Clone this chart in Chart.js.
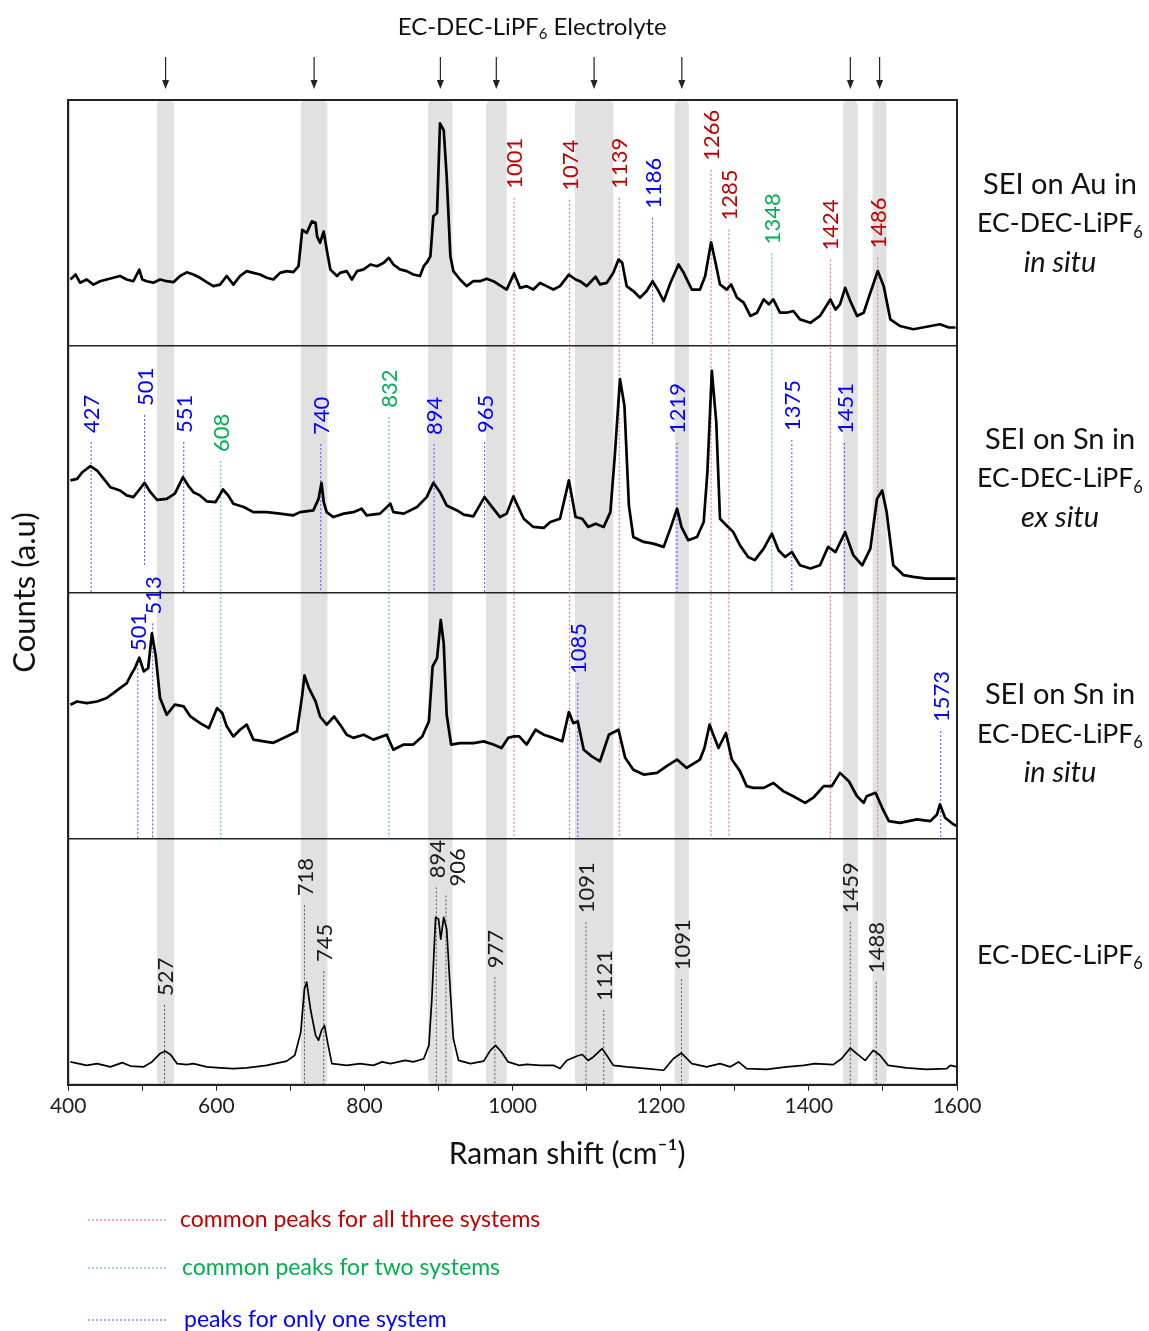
<!DOCTYPE html>
<html lang="en">
<head>
<meta charset="UTF-8">
<title>Raman spectra of SEI on Au and Sn in EC-DEC-LiPF6</title>
<script src="https://cdn.jsdelivr.net/npm/chart.js"></script>
<style>
    html, body { margin: 0; padding: 0; background: #ffffff; }
    canvas { display: block; }
</style>
</head>
<body>
<canvas id="raman" width="1149" height="1331"></canvas>
<script>
// each spectrum lives in its own 100-unit tall panel, stacked top to bottom
const panelBase = [300, 200, 100, 0];

// [Raman shift cm-1, counts in panel units]
const auInSitu = [
    [403,27.1],[410,29.1],[416,25.8],[425,27.1],[434,25.0],[443,26.4],[452,27.1],[461,27.8],[470,28.5],[479,27.1],
    [488,26.4],[496,31.1],[500,27.1],[506,26.4],[515,25.8],[524,27.1],[533,26.4],[542,26.0],[551,28.5],[560,30.0],
    [569,29.1],[578,27.8],[587,26.0],[596,24.4],[605,25.0],[614,28.5],[623,25.0],[632,28.5],[641,30.5],[650,29.8],
    [659,29.1],[668,27.8],[677,27.1],[686,29.8],[695,30.5],[704,30.1],[711,32.5],[716,47.3],[722,46.0],[729,50.7],
    [734,50.1],[736,44.6],[740,42.0],[745,46.6],[749,39.3],[754,31.1],[763,28.5],[767,29.8],[776,30.5],[783,27.1],
    [790,30.5],[799,31.2],[808,33.2],[817,32.5],[826,33.9],[833,35.9],[839,33.2],[848,31.2],[857,30.5],[866,29.1],
    [875,28.5],[880,32.5],[884,33.9],[889,36.5],[893,52.8],[898,54.1],[902,90.5],[907,87.8],[911,69.0],[916,36.5],
    [920,30.5],[929,27.1],[938,24.4],[947,26.4],[956,26.4],[965,27.4],[974,26.4],[992,23.0],[1002,29.6],[1010,23.7],
    [1019,24.4],[1028,23.0],[1037,25.7],[1046,24.4],[1055,23.0],[1064,24.4],[1076,29.1],[1085,27.1],[1091,26.4],[1100,24.4],
    [1112,28.2],[1118,25.1],[1127,25.7],[1136,29.8],[1143,35.2],[1148,33.9],[1154,24.4],[1163,22.4],[1172,19.7],[1181,22.4],
    [1189,26.4],[1197,22.4],[1204,18.3],[1213,25.7],[1224,33.2],[1231,29.8],[1242,23.0],[1253,23.0],[1260,28.5],[1268,42.2],
    [1274,33.9],[1280,25.1],[1289,23.0],[1295,25.1],[1303,19.7],[1312,17.7],[1321,12.3],[1330,13.6],[1339,19.0],[1346,17.0],
    [1352,19.0],[1361,13.6],[1370,13.6],[1379,14.3],[1388,10.9],[1402,9.5],[1415,12.3],[1429,19.0],[1436,14.9],[1442,17.0],
    [1449,23.7],[1456,18.3],[1465,12.3],[1474,13.6],[1483,21.7],[1493,30.5],[1501,24.4],[1510,10.9],[1523,8.2],[1541,6.9],
    [1559,7.9],[1577,8.9],[1589,7.6],[1598,7.6]
];

const snExSitu = [
    [403,45.5],[412,46.1],[419,48.8],[430,51.3],[439,49.5],[448,46.1],[457,42.7],[470,41.4],[479,39.4],[488,38.7],
    [497,42.1],[503,44.5],[511,40.7],[520,37.6],[533,38.0],[544,40.1],[555,46.8],[562,43.4],[569,40.7],[578,39.4],
    [587,37.0],[599,36.7],[609,41.8],[616,39.4],[623,36.0],[637,34.7],[650,32.6],[668,32.6],[686,32.0],[704,31.3],
    [713,32.6],[731,33.3],[738,38.0],[742,44.5],[745,36.7],[749,32.6],[758,30.6],[772,32.0],[785,32.6],[796,34.0],
    [803,31.3],[821,32.0],[835,36.0],[839,32.6],[853,32.0],[871,34.7],[884,38.7],[893,44.5],[902,40.7],[911,35.3],
    [925,33.3],[934,31.6],[947,30.9],[962,38.7],[974,34.0],[983,30.6],[992,32.0],[1001,39.0],[1015,29.9],[1028,26.6],
    [1042,26.2],[1051,28.6],[1064,29.9],[1076,45.5],[1085,30.6],[1094,29.9],[1102,26.6],[1112,27.9],[1123,26.6],[1132,32.6],
    [1138,55.6],[1145,86.6],[1151,75.8],[1157,35.3],[1163,22.5],[1177,20.5],[1190,19.8],[1204,18.5],[1213,25.9],[1222,34.0],
    [1228,26.6],[1237,21.2],[1249,22.5],[1258,28.6],[1263,48.8],[1269,90.0],[1275,69.1],[1280,29.9],[1289,27.2],[1298,24.5],
    [1307,19.1],[1318,14.4],[1327,13.1],[1339,17.8],[1350,23.9],[1359,17.1],[1368,14.4],[1377,16.4],[1388,11.0],[1402,9.7],
    [1415,11.0],[1426,18.5],[1436,16.4],[1449,24.5],[1460,15.1],[1472,11.0],[1483,17.8],[1492,38.0],[1499,41.4],[1505,32.6],
    [1514,11.0],[1528,7.0],[1541,6.3],[1559,5.6],[1577,5.6],[1598,5.6]
];

const snInSitu = [
    [403,54.4],[412,55.7],[425,55.0],[439,55.7],[452,57.1],[461,59.1],[470,61.1],[479,63.1],[486,67.2],[490,69.2],
    [496,73.5],[502,67.9],[508,69.2],[513,83.4],[518,74.6],[524,57.1],[533,50.3],[544,54.4],[556,53.7],[565,49.6],
    [578,46.9],[590,44.9],[601,53.0],[608,51.0],[614,45.6],[623,41.5],[632,44.2],[641,46.3],[650,40.2],[664,39.5],
    [677,38.9],[695,41.5],[709,43.6],[716,58.4],[719,66.3],[725,61.1],[734,55.7],[740,49.6],[749,46.3],[759,49.6],
    [767,46.3],[776,42.2],[785,40.9],[799,42.2],[812,40.2],[830,42.2],[839,36.1],[853,38.2],[866,38.2],[878,41.5],
    [887,47.6],[892,69.9],[898,73.3],[903,88.8],[907,79.3],[911,50.3],[917,38.2],[929,38.8],[947,38.8],[961,39.5],
    [974,38.2],[985,36.8],[994,40.9],[1001,41.5],[1009,41.5],[1019,38.2],[1031,44.2],[1042,42.2],[1055,40.9],[1067,39.5],
    [1076,51.4],[1082,46.9],[1088,47.6],[1096,36.1],[1107,33.4],[1118,31.4],[1130,42.2],[1143,44.2],[1152,32.8],[1163,28.0],
    [1177,26.0],[1195,26.7],[1208,29.4],[1222,32.1],[1235,28.7],[1253,32.1],[1259,36.8],[1266,46.3],[1271,42.2],[1278,36.8],
    [1288,42.9],[1296,32.1],[1307,27.4],[1316,21.3],[1325,20.6],[1339,20.6],[1352,22.6],[1366,19.2],[1379,17.2],[1395,14.5],
    [1406,16.6],[1420,21.3],[1431,21.3],[1442,26.7],[1454,23.3],[1465,17.2],[1474,14.5],[1478,17.2],[1490,18.6],[1499,12.5],
    [1508,7.1],[1523,6.4],[1546,7.8],[1564,7.1],[1573,9.8],[1577,13.9],[1584,8.5],[1595,5.8],[1600,5.1]
];

const electrolyte = [
    [403,9.3],[425,7.9],[439,8.6],[457,7.3],[473,9.0],[484,7.6],[502,7.3],[513,9.3],[524,12.7],[531,13.6],
    [538,12.3],[547,8.6],[560,8.2],[569,8.6],[587,7.3],[605,6.9],[623,6.6],[641,6.9],[668,7.9],[695,9.6],
    [706,12.0],[714,21.4],[719,39.0],[722,41.7],[727,30.9],[734,20.1],[738,18.1],[742,22.1],[746,24.1],[751,16.0],
    [756,8.6],[776,7.9],[794,8.6],[812,7.9],[824,9.3],[835,8.6],[855,9.9],[866,9.3],[880,10.6],[887,16.0],
    [891,34.9],[896,68.0],[900,67.3],[903,59.2],[907,68.0],[911,63.3],[916,37.6],[920,18.7],[927,9.9],[943,8.6],
    [961,9.6],[970,14.0],[977,16.0],[985,13.3],[994,9.3],[1009,7.9],[1019,8.3],[1037,7.9],[1055,7.9],[1064,6.6],
    [1073,9.9],[1087,11.7],[1094,12.3],[1102,9.9],[1109,11.3],[1121,14.7],[1127,12.0],[1136,7.9],[1154,7.3],[1181,6.6],
    [1204,5.9],[1217,10.6],[1228,12.9],[1242,8.6],[1262,7.3],[1280,8.6],[1294,7.3],[1305,9.3],[1316,6.6],[1343,6.3],
    [1370,7.3],[1393,7.9],[1408,8.6],[1433,8.2],[1444,10.6],[1456,14.9],[1465,12.6],[1476,9.9],[1487,14.0],[1496,12.0],
    [1507,7.9],[1532,6.9],[1559,6.3],[1586,6.6],[1591,7.9],[1600,7.3]
];

// shaded electrolyte bands (cm-1)
const bandStart = [520, 714, 886, 964, 1084, 1219, 1446, 1486];
const bandEnd   = [543, 750, 919, 992, 1136, 1238, 1466, 1505];

// peak markers: [line position, label, kind, line top, line bottom, label position]
const auMarks = [
    [1002, '1001', 'all', 360.3, 100],
    [1077, '1074', 'all', 359.5, 100],
    [1144, '1139', 'all', 360.3, 100],
    [1189, '1186', 'one', 352.2, 300],
    [1268, '1266', 'all', 371.7, 100],
    [1292, '1285', 'all', 347.4, 100],
    [1350, '1348', 'two', 337.7, 200],
    [1429, '1424', 'all', 335.2, 100],
    [1493, '1486', 'all', 336.0, 100]
];
const snExMarks = [
    [431, '427', 'one', 261.1, 200],
    [503, '501', 'one', 272.1, 210.5],
    [556, '551', 'one', 261.1, 200],
    [606, '608', 'two', 253.4, 100],
    [741, '740', 'one', 260.3, 200],
    [833, '832', 'two', 271.3, 100],
    [894, '894', 'one', 260.3, 200],
    [962, '965', 'one', 261.1, 200],
    [1222, '1219', 'one', 260.7, 200],
    [1377, '1375', 'one', 261.9, 200],
    [1448, '1451', 'one', 260.7, 200]
];
const snInMarks = [
    [494, '501', 'one', 172.5, 100],
    [514, '513', 'one', 187.4, 100],
    [1088, '1085', 'one', 163.2, 100],
    [1578, '1573', 'one', 143.7, 100]
];
const refMarks = [
    [530, '527', 'ref', 32.4, 0],
    [719, '718', 'ref', 72.9, 0],
    [745, '745', 'ref', 46.2, 0],
    [897, '894', 'ref', 80.2, 0, 898],
    [910, '906', 'ref', 76.9, 0, 925],
    [976, '977', 'ref', 43.7, 0],
    [1099, '1091', 'ref', 66.0, 0],
    [1123, '1121', 'ref', 30.4, 0],
    [1228, '1091', 'ref', 42.9, 0],
    [1456, '1459', 'ref', 66.0, 0],
    [1491, '1488', 'ref', 41.7, 0]
];

const panelTitles = [
    ['SEI on Au in', 'EC-DEC-LiPF_6', '*in situ'],
    ['SEI on Sn in', 'EC-DEC-LiPF_6', '*ex situ'],
    ['SEI on Sn in', 'EC-DEC-LiPF_6', '*in situ'],
    ['EC-DEC-LiPF_6']
];
const panelTitleAt = [365.6, 262, 158.3, 52.6];

const legendKinds = ['all', 'two', 'one'];
const legendText = ['common peaks for all three systems', 'common peaks for two systems', 'peaks for only one system'];

const FONT = 'Lato, "Open Sans", sans-serif';
const kindLine  = { all: '#f06262', two: '#3cc47c', one: '#4a55ff', ref: '#555555' };
const kindLabel = { all: '#c00000', two: '#00b050', one: '#0000ff', ref: '#1a1a1a' };

const spectra = [auInSitu, snExSitu, snInSitu, electrolyte];
const allMarks = [].concat(auMarks, snExMarks, snInMarks, refMarks);

const datasets = spectra.map((s, i) => ({
    data: s.map(p => ({ x: p[0], y: p[1] + panelBase[i] })),
    borderColor: '#000',
    borderWidth: i === 3 ? 1.7 : 2.7,
    borderJoinStyle: 'round',
    pointRadius: 0,
    tension: 0
}));

allMarks.forEach(m => {
    datasets.push({
        data: [{ x: m[0], y: m[3] }, { x: m[0], y: m[4] }],
        borderColor: kindLine[m[2]],
        borderWidth: 1,
        borderDash: [2, 2],
        pointRadius: 0
    });
});

// text with '_6' subscripts and a leading '*' for italics, shrunk to fit maxW
function drawRich(ctx, str, cx, cy, size, color, maxW) {
    let italic = false;
    if (str[0] === '*') { italic = true; str = str.slice(1); }
    const pieces = [];
    str.split('_').forEach((p, i) => {
        if (i === 0) { pieces.push([p, false]); return; }
        pieces.push([p[0], true]);
        if (p.length > 1) pieces.push([p.slice(1), false]);
    });
    const font = (sub, s) => (italic ? 'italic ' : '') + (sub ? s * 0.62 : s).toFixed(1) + 'px ' + FONT;
    const measure = s => pieces.reduce((w, [t, sub]) => { ctx.font = font(sub, s); return w + ctx.measureText(t).width; }, 0);
    let total = measure(size);
    if (maxW && total > maxW) { size = size * maxW / total; total = measure(size); }
    let x = cx - total / 2;
    ctx.fillStyle = color;
    ctx.textAlign = 'left';
    ctx.textBaseline = 'middle';
    pieces.forEach(([t, sub]) => {
        ctx.font = font(sub, size);
        ctx.fillText(t, x, cy + (sub ? size * 0.32 : 0));
        x += ctx.measureText(t).width;
    });
}

const decor = {
    id: 'decor',
    beforeDraw(chart) {
        const { ctx, chartArea: a, scales: { x } } = chart;
        ctx.save();
        ctx.fillStyle = '#e1e1e1';
        bandStart.forEach((s, i) => {
            const l = x.getPixelForValue(s), r = x.getPixelForValue(bandEnd[i]);
            ctx.beginPath();
            ctx.roundRect(l, a.top + 1, r - l, a.bottom - a.top - 2, 4);
            ctx.fill();
        });
        ctx.restore();
    },
    afterDraw(chart) {
        const { ctx, chartArea: a, scales: { x, y } } = chart;
        ctx.save();

        // frame
        ctx.strokeStyle = '#222';
        ctx.lineWidth = 2;
        ctx.strokeRect(a.left, a.top, a.right - a.left, a.bottom - a.top);

        // peak labels, rotated
        ctx.font = '22px ' + FONT;
        ctx.textAlign = 'left';
        ctx.textBaseline = 'middle';
        allMarks.forEach(m => {
            const px = x.getPixelForValue(m[5] !== undefined ? m[5] : m[0]);
            const py = y.getPixelForValue(m[3]) - 9;
            ctx.save();
            ctx.translate(px, py);
            ctx.rotate(-Math.PI / 2);
            ctx.fillStyle = kindLabel[m[2]];
            ctx.fillText(m[1], 0, 1);
            ctx.restore();
        });

        // panel names on the right
        const cx = a.right + 103;
        panelTitles.forEach((lines, i) => {
            const top = y.getPixelForValue(panelTitleAt[i]);
            lines.forEach((t, j) => drawRich(ctx, t, cx, top + j * 39, 29, '#111', 166));
        });

        // x axis title
        ctx.font = '30px ' + FONT;
        ctx.fillStyle = '#111';
        ctx.textAlign = 'center';
        ctx.textBaseline = 'middle';
        ctx.fillText('Raman shift (cm⁻¹)', a.left + 499, a.bottom + 70);

        // electrolyte title and arrows
        drawRich(ctx, 'EC-DEC-LiPF_6 Electrolyte', a.left + 464, 27, 24, '#111');
        ctx.strokeStyle = '#222';
        ctx.fillStyle = '#222';
        ctx.lineWidth = 1.2;
        bandStart.forEach((s, i) => {
            const px = x.getPixelForValue((s + bandEnd[i]) / 2);
            ctx.beginPath();
            ctx.moveTo(px, 57);
            ctx.lineTo(px, 82);
            ctx.stroke();
            ctx.beginPath();
            ctx.moveTo(px - 3.5, 80);
            ctx.lineTo(px + 3.5, 80);
            ctx.lineTo(px, 89);
            ctx.closePath();
            ctx.fill();
        });

        // legend for marker colours
        const ly = [1220, 1268, 1320];
        legendKinds.forEach((k, i) => {
            ctx.strokeStyle = kindLine[k];
            ctx.lineWidth = 1;
            ctx.setLineDash([2, 2]);
            ctx.beginPath();
            ctx.moveTo(88, ly[i]);
            ctx.lineTo(168, ly[i]);
            ctx.stroke();
            ctx.setLineDash([]);
            ctx.font = '23px ' + FONT;
            ctx.fillStyle = kindLabel[k];
            ctx.textAlign = 'left';
            ctx.textBaseline = 'middle';
            ctx.fillText(legendText[i], 180 + i * 2, ly[i]);
        });
        ctx.restore();
    }
};

Chart.defaults.font.family = FONT;

new Chart(document.getElementById('raman').getContext('2d'), {
    type: 'line',
    data: { datasets },
    options: {
        responsive: false,
        animation: false,
        layout: { padding: { top: 100, right: 192, bottom: 209, left: 0 } },
        plugins: { legend: { display: false }, tooltip: { enabled: false } },
        scales: {
            x: {
                type: 'linear',
                min: 400,
                max: 1600,
                ticks: {
                    stepSize: 100,
                    autoSkip: false,
                    maxRotation: 0,
                    padding: 3,
                    color: '#222',
                    font: { size: 21 },
                    callback: v => (v % 200 === 0 ? String(v) : '')
                },
                grid: { drawOnChartArea: false, tickLength: 6, color: '#222' },
                border: { color: '#222', width: 2 }
            },
            y: {
                min: 0,
                max: 400,
                ticks: { display: false, stepSize: 100 },
                grid: { color: '#222', lineWidth: 1.5, drawTicks: false },
                border: { color: '#222', width: 2 },
                title: {
                    display: true,
                    text: 'Counts (a.u)',
                    color: '#111',
                    font: { size: 31 },
                    padding: { top: 6, bottom: 25 }
                }
            }
        }
    },
    plugins: [decor]
});
</script>
</body>
</html>
